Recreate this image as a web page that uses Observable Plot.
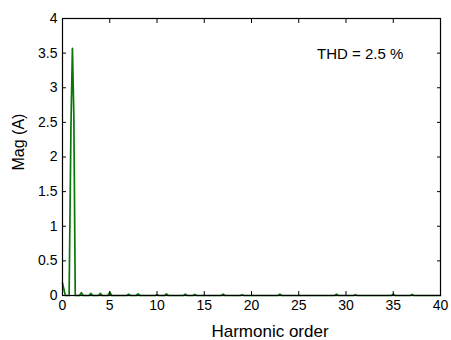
<!DOCTYPE html>
<html>
<head>
<meta charset="utf-8">
<script src="https://cdn.jsdelivr.net/npm/d3@7"></script>
<script src="https://cdn.jsdelivr.net/npm/@observablehq/plot@0.6"></script>
<style>
  html, body { margin: 0; padding: 0; background: #fff; }
  #chart svg { display: block; }
</style>
</head>
<body>
<div id="chart"></div>
<script>
// Current spectrum: harmonic order vs magnitude (A)
const harmonic = [0, 0.1, 0.3, 0.7, 0.9, 1.05, 1.2, 1.35, 1.8, 2, 2.2, 2.8, 3, 3.2, 3.8, 4, 4.2, 4.8, 5, 5.2,
  6.8, 7, 7.2, 7.8, 8, 8.2, 9.8, 10, 10.2, 10.8, 11, 11.2, 12.8, 13, 13.2, 13.8, 14, 14.2, 16.8, 17, 17.2,
  18.8, 19, 19.2, 22.8, 23, 23.2, 28.8, 29, 29.2, 30.8, 31, 31.2, 34.8, 35, 35.2, 36.8, 37, 37.2, 40];
const magnitude = [0.18, 0.12, 0, 0, 2.5, 3.57, 2.6, 0, 0, 0.04, 0, 0, 0.03, 0, 0, 0.03, 0, 0, 0.05, 0,
  0, 0.02, 0, 0, 0.025, 0, 0, 0.01, 0, 0, 0.025, 0, 0, 0.02, 0, 0, 0.015, 0, 0, 0.02, 0,
  0, 0.012, 0, 0, 0.02, 0, 0, 0.02, 0, 0, 0.012, 0, 0, 0.02, 0, 0, 0.015, 0, 0];

const xTicks = [0, 5, 10, 15, 20, 25, 30, 35, 40];
const yTicks = [0, 0.5, 1, 1.5, 2, 2.5, 3, 3.5, 4];
const xLabel = "Harmonic order";
const yLabel = "Mag (A)";
const thdText = "THD = 2.5 %";
const thdPos = {x: 31.5, y: 3.48};

const data = harmonic.map((h, i) => ({h, m: magnitude[i]}));

const font = "'Liberation Sans', Arial, sans-serif";

const chart = Plot.plot({
  width: 451,
  height: 340,
  marginLeft: 62,
  marginRight: 11,
  marginTop: 18,
  marginBottom: 45,
  style: {fontFamily: font, fontSize: "14px", color: "#000", background: "#fff"},
  x: {domain: [0, 40]},
  y: {domain: [0, 4]},
  marks: [
    Plot.line(data, {x: "h", y: "m", stroke: "#0a760a", strokeWidth: 1.7}),
    Plot.axisX({ticks: xTicks, tickSize: -4, tickPadding: 9, label: null, fontSize: 14}),
    Plot.axisX({anchor: "top", ticks: xTicks, tickSize: -4, tickFormat: () => "", label: null}),
    Plot.axisY({ticks: yTicks, tickSize: -4, tickPadding: 9, tickFormat: d => String(d), label: null, fontSize: 14}),
    Plot.axisY({anchor: "right", ticks: yTicks, tickSize: -4, tickFormat: () => "", label: null}),
    Plot.frame({stroke: "#000", strokeWidth: 1.2}),
    Plot.text([thdText], {x: () => thdPos.x, y: () => thdPos.y, text: d => d, fontSize: 15, fill: "#000"})
  ]
});

document.getElementById("chart").append(chart);

// axis titles
const svg = d3.select(chart);
svg.append("text")
  .attr("x", 270).attr("y", 337)
  .attr("text-anchor", "middle")
  .attr("font-family", font).attr("font-size", 17).attr("fill", "#000")
  .text(xLabel);
svg.append("text")
  .attr("transform", "translate(24,142) rotate(-90)")
  .attr("text-anchor", "middle")
  .attr("font-family", font).attr("font-size", 16).attr("fill", "#000")
  .text(yLabel);
</script>
</body>
</html>
